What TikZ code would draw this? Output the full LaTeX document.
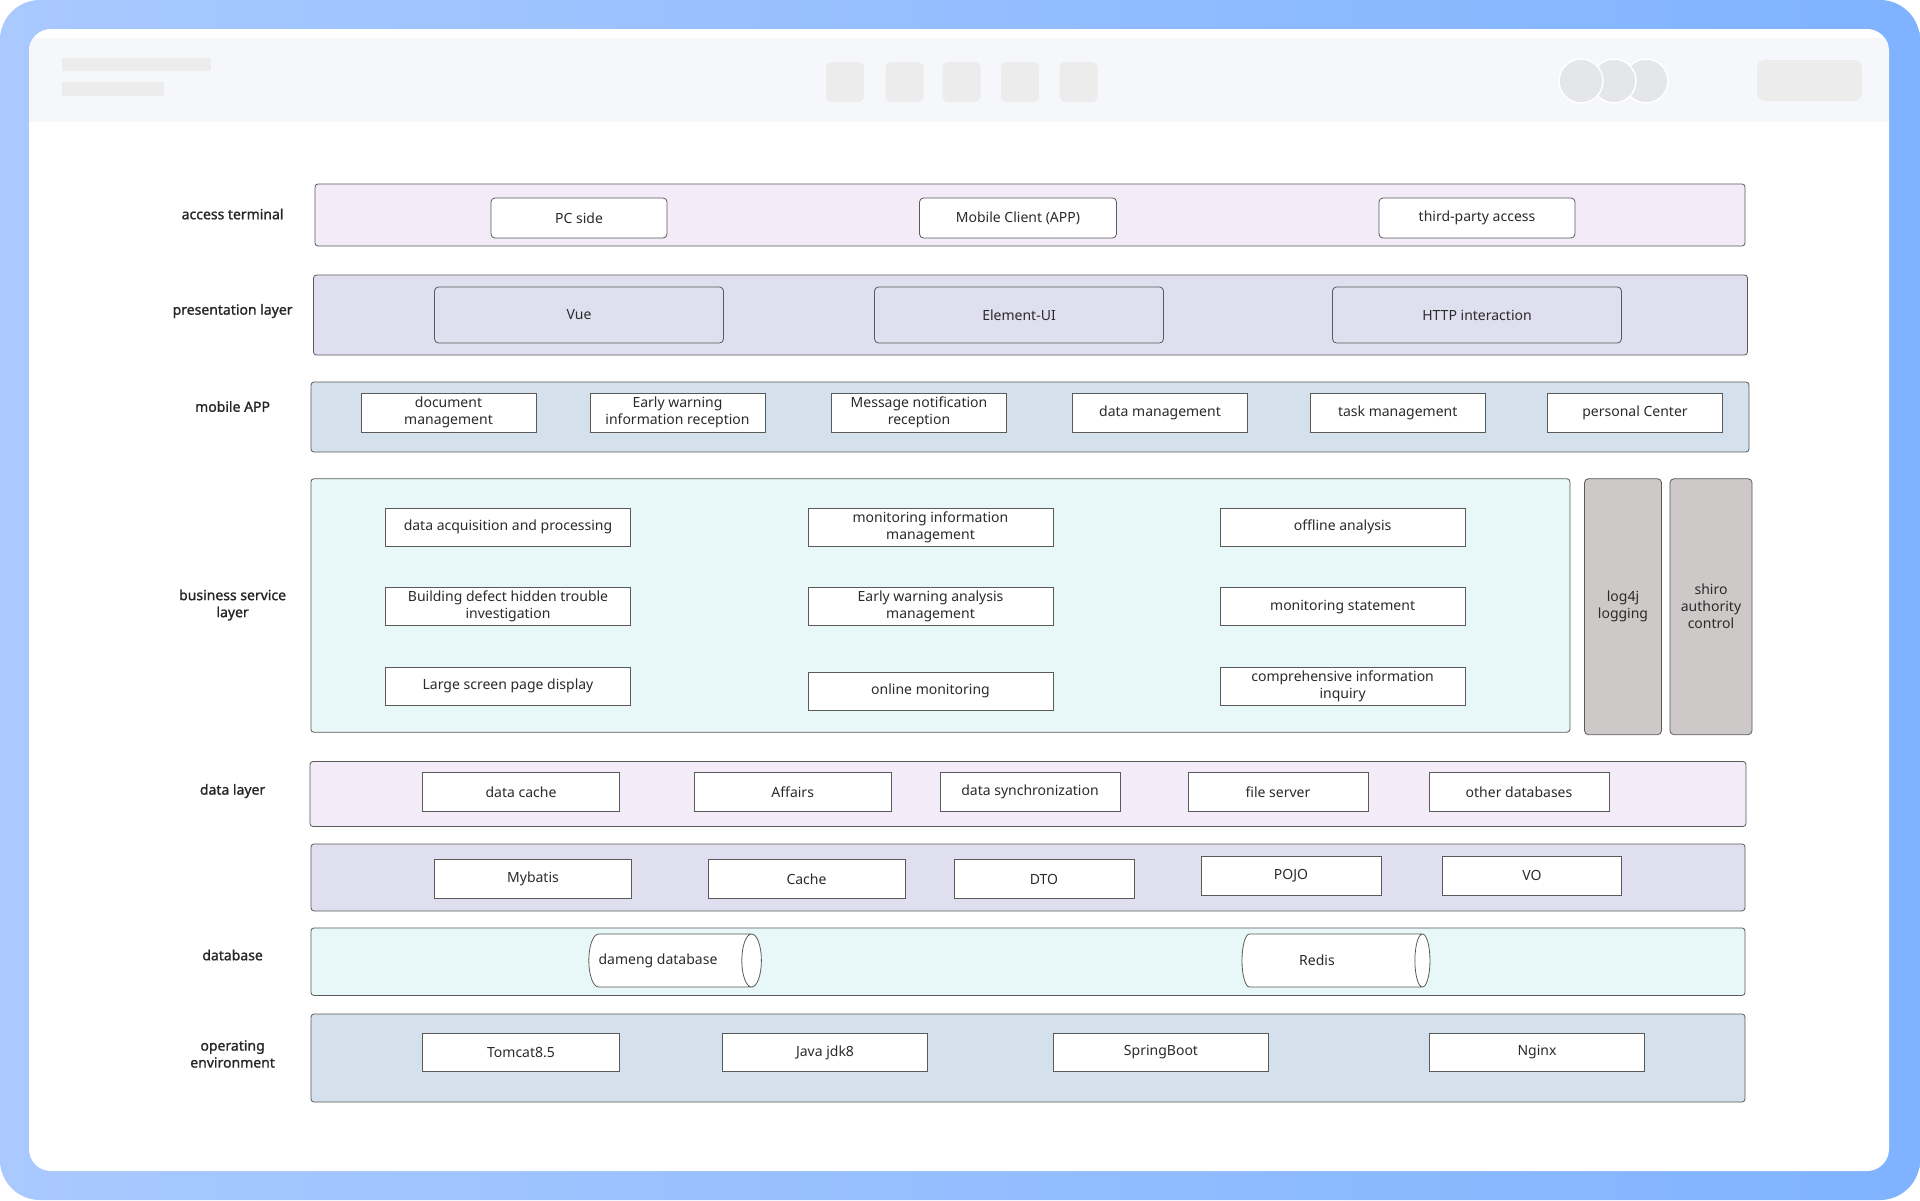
\documentclass[tikz,border=0pt]{standalone}
\usepackage{fontspec}
\setmainfont{Noto Sans}
\newfontfamily\tagfont[FakeBold=1.2]{Noto Sans}
\usetikzlibrary{shapes.geometric}

\definecolor{frameL}{HTML}{A9C9FF}
\definecolor{frameR}{HTML}{7FB3FF}
\definecolor{headbar}{HTML}{F5F7FB}
\definecolor{dummy}{HTML}{ECECEC}
\definecolor{avatar}{HTML}{E5E6E8}
\definecolor{edge}{HTML}{5A5A5A}
\definecolor{txt}{HTML}{2B2B2B}
\definecolor{lilac}{HTML}{F3ECF8}
\definecolor{violet}{HTML}{E0DFF0}
\definecolor{steel}{HTML}{D4E0EC}
\definecolor{aqua}{HTML}{E8F8F8}
\definecolor{stone}{HTML}{CDC9C8}

\begin{document}
\begin{tikzpicture}[x=1pt, y=-1pt,
    every node/.style={font=\fontsize{14}{17}\selectfont, text=txt, align=center, inner sep=0pt},
    layer/.style={draw=edge, line width=0.8pt, rounded corners=3pt},
    item/.style={draw=edge, fill=white, line width=0.8pt, minimum height=39pt},
    ritem/.style={item, rounded corners=4pt},
    sidebox/.style={draw=edge, fill=stone, line width=0.8pt, rounded corners=4pt, minimum height=256pt},
    tag/.style={font=\tagfont\fontsize{14}{17}\selectfont, text=black!85},
    dbcyl/.style={cylinder, draw=edge, fill=white, line width=0.8pt, aspect=1.4, minimum width=53pt}]
    \useasboundingbox (0, 0) rectangle (1920, 1200);

    % window frame
    \shade[left color=frameL, right color=frameR, rounded corners=40pt] (0, 0) rectangle (1920, 1200);
    \fill[white, rounded corners=22pt] (29, 29) rectangle (1889, 1171);
    \begin{scope}
        \clip[rounded corners=22pt] (29, 29) rectangle (1889, 1171);
        \fill[headbar] (29, 38) rectangle (1889, 122);
    \end{scope}
    \fill[dummy] (62, 58) rectangle (211, 71);
    \fill[dummy] (62, 82) rectangle (164, 96);
    \foreach \x in {845, 904.5, 961.5, 1020, 1078.5}
        \fill[dummy, rounded corners=6pt] (\x-19, 62) rectangle (\x+19, 102);
    \foreach \x in {1646, 1614, 1581}
        \filldraw[fill=avatar, draw=white, line width=1.5pt] (\x, 81) circle (22);
    \fill[dummy, rounded corners=8pt] (1757, 60) rectangle (1862, 101);

    % layer labels
    \node[tag] (tAccess) at (232.6, 214) {access terminal};
    \node[tag] (tPres) at (232.6, 311) {presentation layer};
    \node[tag] (tMobile) at (232.6, 406.5) {mobile APP};
    \node[tag] (tBiz) at (232.6, 605) {business service\\layer};
    \node[tag] (tData) at (232.6, 791) {data layer};
    \node[tag] (tDb) at (232.6, 955) {database};
    \node[tag] (tEnv) at (232.6, 1054) {operating\\environment};

    % access terminal
    \node[layer, fill=lilac, minimum width=1430pt, minimum height=62pt] (access) at (1030, 215) {};
    \node[ritem, minimum width=176pt, minimum height=40pt] (pc) at (579, 218) {PC side};
    \node[ritem, minimum width=197pt, minimum height=40pt] (mobileclient) at (1018, 218) {Mobile Client (APP)};
    \node[ritem, minimum width=196pt, minimum height=40pt] (third) at (1477, 218) {third-party access};

    % presentation layer
    \node[layer, fill=violet, minimum width=1434pt, minimum height=80pt] (pres) at (1030.5, 315) {};
    \node[ritem, fill=violet, minimum width=289pt, minimum height=56pt] (vue) at (579, 315) {Vue};
    \node[ritem, fill=violet, minimum width=289pt, minimum height=56pt] (element) at (1019, 315) {Element-UI};
    \node[ritem, fill=violet, minimum width=289pt, minimum height=56pt] (http) at (1477, 315) {HTTP interaction};

    % mobile APP
    \node[layer, fill=steel, minimum width=1438pt, minimum height=70pt] (mobile) at (1030, 417) {};
    \node[item, minimum width=175pt] (docman) at (448.5, 412.5) {document\\management};
    \node[item, minimum width=175pt] (warnrec) at (677.5, 412.5) {Early warning\\information reception};
    \node[item, minimum width=175pt] (msgrec) at (919, 412.5) {Message notification\\reception};
    \node[item, minimum width=175pt] (dataman) at (1160, 412.5) {data management};
    \node[item, minimum width=175pt] (taskman) at (1397.7, 412.5) {task management};
    \node[item, minimum width=175pt] (personal) at (1635, 412.5) {personal Center};

    % business service layer
    \node[layer, fill=aqua, minimum width=1259pt, minimum height=253.5pt] (biz) at (940.4, 605.5) {};
    \node[item, minimum width=245pt, minimum height=38pt] (acq) at (508, 527) {data acquisition and processing};
    \node[item, minimum width=245pt, minimum height=38pt] (defect) at (508, 606.7) {Building defect hidden trouble\\investigation};
    \node[item, minimum width=245pt, minimum height=38pt] (screen) at (508, 686.3) {Large screen page display};
    \node[item, minimum width=245pt, minimum height=38pt] (moninfo) at (930.5, 527) {monitoring information\\management};
    \node[item, minimum width=245pt, minimum height=38pt] (warnana) at (930.5, 606.7) {Early warning analysis\\management};
    \node[item, minimum width=245pt, minimum height=38pt] (online) at (930.5, 691) {online monitoring};
    \node[item, minimum width=245pt, minimum height=38pt] (offline) at (1342.6, 527) {offline analysis};
    \node[item, minimum width=245pt, minimum height=38pt] (statement) at (1342.6, 606.7) {monitoring statement};
    \node[item, minimum width=245pt, minimum height=38pt] (inquiry) at (1342.6, 686.3) {comprehensive information\\inquiry};
    \node[sidebox, minimum width=77pt] (log4j) at (1623, 606.7) {log4j\\logging};
    \node[sidebox, minimum width=82pt] (shiro) at (1711, 606.7) {shiro\\authority\\control};

    % data layer
    \node[layer, fill=lilac, minimum width=1436pt, minimum height=65pt] (data) at (1028, 794) {};
    \node[item, minimum width=197pt] (cache) at (521, 792) {data cache};
    \node[item, minimum width=197pt] (affairs) at (792.7, 792) {Affairs};
    \node[item, minimum width=180pt] (sync) at (1030, 792) {data synchronization};
    \node[item, minimum width=180pt] (fileserver) at (1278, 792) {file server};
    \node[item, minimum width=180pt] (otherdb) at (1519, 792) {other databases};

    % persistence
    \node[layer, fill=violet, minimum width=1434pt, minimum height=67pt] (persist) at (1028, 877.4) {};
    \node[item, minimum width=197pt] (mybatis) at (533, 879) {Mybatis};
    \node[item, minimum width=197pt] (pcache) at (806.5, 879) {Cache};
    \node[item, minimum width=180pt] (dto) at (1044, 879) {DTO};
    \node[item, minimum width=180pt] (pojo) at (1291, 875.5) {POJO};
    \node[item, minimum width=179pt] (vo) at (1532, 875.5) {VO};

    % database
    \node[layer, fill=aqua, minimum width=1434pt, minimum height=67.5pt] (db) at (1028, 961.7) {};
    \node[dbcyl, minimum height=166pt] (dameng) at (670, 960.5) {dameng database\hspace*{24pt}};
    \node[dbcyl, minimum height=188pt] (redis) at (1332, 960.5) {Redis\hspace*{30pt}};

    % operating environment
    \node[layer, fill=steel, minimum width=1434pt, minimum height=88pt] (env) at (1028, 1058) {};
    \node[item, minimum width=197pt, minimum height=38pt] (tomcat) at (521, 1052.5) {Tomcat8.5};
    \node[item, minimum width=204.5pt, minimum height=38pt] (jdk) at (825, 1052.5) {Java jdk8};
    \node[item, minimum width=215.6pt, minimum height=38pt] (spring) at (1161, 1052.5) {SpringBoot};
    \node[item, minimum width=215.5pt, minimum height=38pt] (nginx) at (1537, 1052.5) {Nginx};
\end{tikzpicture}
\end{document}
